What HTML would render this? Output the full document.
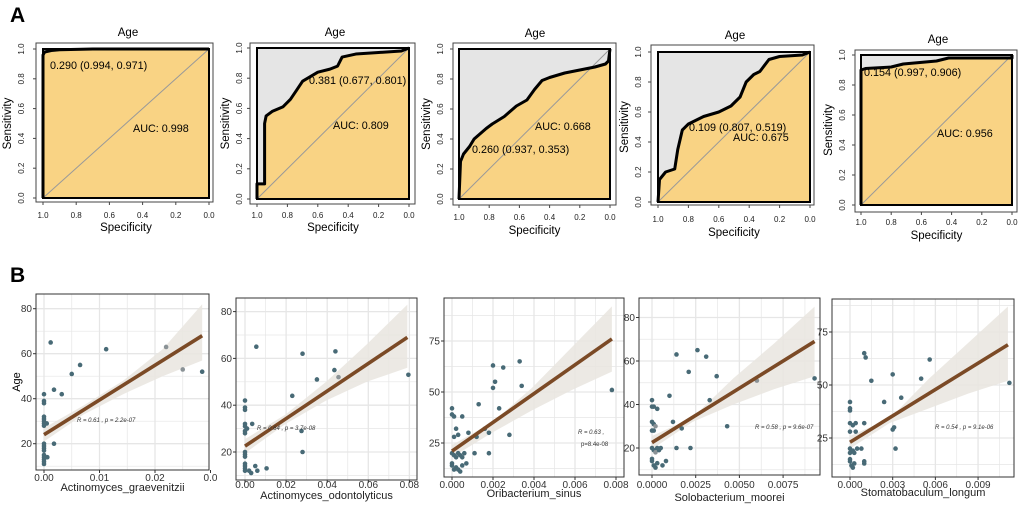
<!DOCTYPE html>
<html><head><meta charset="utf-8">
<style>
html,body{margin:0;padding:0;background:#fff;}
svg{display:block;font-family:"Liberation Sans",Arial,sans-serif;}
</style></head>
<body>
<svg id="fig" width="1020" height="505" viewBox="0 0 1020 505" xmlns="http://www.w3.org/2000/svg">
<text x="10" y="22" font-size="21" font-weight="bold">A</text>
<text x="10" y="282" font-size="21" font-weight="bold">B</text>
</svg>
<script>
// ---------- ROC data ----------
const rocSpec1=[1,1,0.99,0.95,0.9,0.7,0];
const rocSens1=[0,0.96,0.98,0.99,0.995,1,1];
const rocSpec2=[1,1,0.95,0.95,0.94,0.9,0.83,0.78,0.74,0.7,0.65,0.6,0.52,0.47,0.44,0.35,0.2,0.05,0];
const rocSens2=[0,0.1,0.1,0.5,0.55,0.58,0.61,0.66,0.72,0.78,0.81,0.84,0.86,0.88,0.94,0.96,0.97,0.98,1];
const rocSpec3=[1,0.99,0.97,0.93,0.9,0.82,0.78,0.7,0.62,0.55,0.5,0.45,0.4,0.3,0.2,0.1,0.03,0.01,0];
const rocSens3=[0,0.25,0.3,0.35,0.4,0.47,0.5,0.55,0.62,0.66,0.73,0.79,0.81,0.84,0.86,0.88,0.9,0.92,1];
const rocSpec4=[1,0.99,0.95,0.89,0.87,0.84,0.8,0.7,0.6,0.52,0.46,0.42,0.37,0.33,0.27,0.2,0.05,0];
const rocSens4=[0,0.15,0.2,0.22,0.35,0.48,0.52,0.57,0.6,0.64,0.7,0.8,0.85,0.87,0.95,0.97,0.98,1];
const rocSpec5=[1,1,0.97,0.8,0.72,0.5,0.42,0,0];
const rocSens5=[0,0.9,0.91,0.92,0.94,0.96,0.98,0.98,1];
const rocTicks=[0,0.2,0.4,0.6,0.8,1];
const rocTickLabels=["0.0","0.2","0.4","0.6","0.8","1.0"];
const rocThresh=["0.290 (0.994, 0.971)","0.381 (0.677, 0.801)","0.260 (0.937, 0.353)","0.109 (0.807, 0.519)","0.154 (0.997, 0.906)"];
const rocAUC=["AUC: 0.998","AUC: 0.809","AUC: 0.668","AUC: 0.675","AUC: 0.956"];

// ---------- Scatter data ----------
const sx1=[0,0,0,0,0,0,0,0,0,0,0,0,0,0,0,0,0,0.0005,0.0006,0.0012,0.0018,0.0018,0.0032,0.005,0.0065,0.0112,0.022,0.025,0.0285];
const sy1=[42,39,38,32,31,30,29,28,20,19,18,17,15,14,13,12,11,29,14,65,44,20,42,51,55,62,63,53,52];
const sx2=[0,0,0,0,0,0,0,0,0,0,0,0,0,0,0.002,0.003,0.0035,0.005,0.006,0.0055,0.0105,0.023,0.028,0.0275,0.028,0.035,0.0435,0.044,0.0455,0.0795,0.001];
const sy2=[42,39,38,32,31,29,28,20,19,18,15,14,13,12,12,11,32,14,12,65,13,44,62,29,20,51,55,63,52,53,30];
const sx3=[0,0,0.0001,0.0002,0.0001,0.0003,0,0.0001,0.0002,0.0003,0.0004,0.0005,0.0006,0.0005,0,0,0.0001,0.0002,0.0003,0.0004,0.0005,0.0007,0.0008,0.0011,0.0012,0.0013,0.0016,0.0018,0.0018,0.002,0.002,0.0021,0.0023,0.0025,0.0028,0.0033,0.0034,0.0078];
const sy3=[42,39,38,32,28,29,20,19,18,20,19,38,20,18,15,14,12,13,12,11,14,15,30,20,28,44,32,20,30,52,63,55,42,62,29,65,53,51];
const sx4=[0,0,0.0001,0.0003,0,0.0001,0.0002,0,0.0001,0,0.0001,0.0002,0.0003,0.0004,0.0005,0,0,0.0001,0.0002,0.0003,0.0006,0.0008,0.001,0.0012,0.0014,0.0014,0.0017,0.0021,0.0022,0.0026,0.0031,0.0033,0.0037,0.0043,0.006,0.0093];
const sy4=[42,39,39,38,32,31,30,28,28,20,19,18,20,19,20,15,14,12,11,13,12,14,44,32,63,20,29,55,20,65,62,42,53,30,51,52];
const sx5=[0,0,0,0,0.0002,0.0004,0,0.0004,0,0.0002,0.0005,0.0008,0,0.0003,0,0,0.0001,0.0002,0.0003,0.001,0.0011,0.001,0.001,0.001,0.0015,0.0024,0.003,0.003,0.0031,0.0032,0.0036,0.005,0.0056,0.0112];
const sy5=[42,39,38,32,31,32,28,28,20,19,20,20,18,18,15,14,12,11,13,65,63,32,13,14,52,42,55,29,30,20,44,53,62,51];
const lineY1=[24,68], lineY2=[22.5,69], lineY3=[21,76], lineY4=[22.5,69], lineY5=[23,69];
const xMax=[0.0285,0.079,0.0078,0.0093,0.0111];
const bandLo1=[21,33,42,50,57], bandHi1=[27,37,48,62,82];
const bandLo2=[19.5,32,42,50,56], bandHi2=[25.5,36,50,66,83];
const bandLo3=[18,30,41,51,60], bandHi3=[24,35,52,72,92];
const bandLo4=[19.5,32,40,47,53], bandHi4=[25.5,34,52,68,85];
const bandLo5=[20,32,39,46,52], bandHi5=[26,34,53,70,87];
const bandFrac=[0,0.25,0.5,0.75,1];
const xTicks1=[0,0.01,0.02,0.03], xTickLab1=["0.00","0.01","0.02","0.0"];
const xTicks2=[0,0.02,0.04,0.06,0.08], xTickLab2=["0.00","0.02","0.04","0.06","0.08"];
const xTicks3=[0,0.002,0.004,0.006,0.008], xTickLab3=["0.000","0.002","0.004","0.006","0.008"];
const xTicks4=[0,0.0025,0.005,0.0075], xTickLab4=["0.0000","0.0025","0.0050","0.0075"];
const xTicks5=[0,0.003,0.006,0.009], xTickLab5=["0.000","0.003","0.006","0.009"];
const yTicksA=[20,40,60,80], yTicksB=[25,50,75];
const xNames=["Actinomyces_graevenitzii","Actinomyces_odontolyticus","Oribacterium_sinus","Solobacterium_moorei","Stomatobaculum_longum"];
const greyIdx=[[26,27],[28],[],[6,11,34],[]];

const NS="http://www.w3.org/2000/svg";
const svg=document.getElementById('fig');
function el(tag,attrs,parent){const e=document.createElementNS(NS,tag);for(const k in attrs)e.setAttribute(k,attrs[k]);(parent||svg).appendChild(e);return e;}
function txt(s,attrs,parent){const e=el('text',attrs,parent);e.textContent=s;return e;}

// ---------- ROC panels ----------
const rocCfg=[
 {x1:43,x0:209,y1:49,y0:198,ox:[36,213],oy:[43,202],tx:128,ty:36,tl:218,st:231,sx:11,yl:24,th:[50,69],au:[133,132]},
 {x1:257,x0:409,y1:48,y0:199,ox:[250,415],oy:[43,204],tx:335,ty:36,tl:218,st:231,sx:229,yl:242,th:[309,84],au:[333,129]},
 {x1:459,x0:610,y1:49,y0:199,ox:[453,616],oy:[43,205],tx:535,ty:37,tl:220,st:234,sx:430,yl:443,th:[472,153],au:[535,130]},
 {x1:658,x0:810,y1:52,y0:202,ox:[651,814],oy:[45,205],tx:735,ty:39,tl:222,st:236,sx:628,yl:641,th:[689,131],au:[733,141]},
 {x1:861,x0:1012,y1:55,y0:205,ox:[855,1017],oy:[50,212],tx:938,ty:43,tl:225,st:239,sx:832,yl:845,th:[864,76],au:[937,137]}
];
const rocSpecs=[rocSpec1,rocSpec2,rocSpec3,rocSpec4,rocSpec5];
const rocSenss=[rocSens1,rocSens2,rocSens3,rocSens4,rocSens5];
rocCfg.forEach((c,i)=>{
  const g=el('g',{});
  
  
  const X=s=>c.x0-(c.x0-c.x1)*s, Y=v=>c.y0-(c.y0-c.y1)*v;
  const ob=el('rect',{x:c.ox[0],y:c.oy[0],width:c.ox[1]-c.ox[0],height:c.oy[1]-c.oy[0],fill:'none',stroke:'#444','stroke-width':1},g);
  
  
  const bg=el('rect',{x:X(1),y:Y(1),width:X(0)-X(1),height:Y(0)-Y(1),fill:'#e5e5e5'},g);
  
  
  let pts=rocSpecs[i].map((s,k)=>X(s)+','+Y(rocSenss[i][k]));
  const poly=el('polygon',{points:pts.join(' ')+' '+X(0)+','+Y(0)+' '+X(1)+','+Y(0),fill:'#f9d384'},g);
  
  
  const diag=el('line',{x1:X(1),y1:Y(0),x2:X(0),y2:Y(1),stroke:'#999','stroke-width':1},g);
  
  
  const ib=el('rect',{x:X(1),y:Y(1),width:X(0)-X(1),height:Y(0)-Y(1),fill:'none',stroke:'#000','stroke-width':2},g);
  
  
  const cur=el('polyline',{points:pts.join(' '),fill:'none',stroke:'#000','stroke-width':3,'stroke-linejoin':'round'},g);
  
  
  rocTicks.forEach((t,k)=>{
    el('line',{x1:X(t),y1:c.oy[1],x2:X(t),y2:c.oy[1]+3,stroke:'#444'},g);
    const lx=txt(rocTickLabels[k],{x:X(t),y:c.tl,'font-size':8,'text-anchor':'middle',fill:'#222'},g);
    
    
    el('line',{x1:c.ox[0]-3,y1:Y(t),x2:c.ox[0],y2:Y(t),stroke:'#444'},g);
    const ly=txt(rocTickLabels[k],{x:c.yl,y:Y(t),'font-size':8,'text-anchor':'middle',fill:'#222',transform:`rotate(-90 ${c.yl} ${Y(t)})`},g);
    
    
  });
  const t=txt('Age',{x:c.tx,y:c.ty,'font-size':11.5,'text-anchor':'middle'},g);
  
  
  const xt=txt('Specificity',{x:(c.x0+c.x1)/2,y:c.st,'font-size':11.5,'text-anchor':'middle'},g);
  
  
  const my=(c.y0+c.y1)/2;
  const yt=txt('Sensitivity',{x:c.sx,y:my,'font-size':11.5,'text-anchor':'middle',transform:`rotate(-90 ${c.sx} ${my})`},g);
  
  
  const th=txt(rocThresh[i],{x:c.th[0],y:c.th[1],'font-size':10.8},g);
  
  
  const au=txt(rocAUC[i],{x:c.au[0],y:c.au[1],'font-size':10.8},g);
  
  
});

// ---------- Scatter panels ----------
const scCfg=[
 {box:[36,294,209,470],x0:44,xper:5550,yRef:[20,443.7],yper:2.25,yt:yTicksA,tl:481,tt:491,stat:[77,422],ageX:20},
 {box:[236,298,417,480],x0:245,xper:2055,yRef:[20,452],yper:2.34,yt:yTicksA,tl:488,tt:499,stat:[257,430]},
 {box:[444,298,624,477],x0:452,xper:20500,yRef:[25,443],yper:2.04,yt:yTicksB,tl:488,tt:497,stat:[578,434]},
 {box:[639,298,820,475],x0:652,xper:17480,yRef:[20,448],yper:2.175,yt:yTicksA,tl:488,tt:501,stat:[755,429]},
 {box:[832,299,1014,477],x0:850,xper:14230,yRef:[25,438],yper:2.12,yt:yTicksB,tl:488,tt:496,stat:[935,429]}
];
const xs=[sx1,sx2,sx3,sx4,sx5], ys=[sy1,sy2,sy3,sy4,sy5];
const lines=[lineY1,lineY2,lineY3,lineY4,lineY5];
const bLo=[bandLo1,bandLo2,bandLo3,bandLo4,bandLo5], bHi=[bandHi1,bandHi2,bandHi3,bandHi4,bandHi5];
const xT=[xTicks1,xTicks2,xTicks3,xTicks4,xTicks5], xTL=[xTickLab1,xTickLab2,xTickLab3,xTickLab4,xTickLab5];
const statText=["R = 0.61 , p = 2.2e-07","R = 0.64 , p = 3.7e-08","R = 0.63 ,","R = 0.58 , p = 9.6e-07","R = 0.54 , p = 9.1e-06"];
scCfg.forEach((c,i)=>{
  const g=el('g',{});
  
  
  const X=v=>c.x0+v*c.xper, Y=v=>c.yRef[1]-(v-c.yRef[0])*c.yper;
  const [bx0,by0,bx1,by1]=c.box;
  el('rect',{x:bx0,y:by0,width:bx1-bx0,height:by1-by0,fill:'#fff'},g);
  const xt=xT[i], step=xt[1]-xt[0];
  for(let v=xt[0]-step/2; X(v)<bx1; v+=step/2){ if(X(v)<=bx0) continue;
    const major=Math.abs(Math.round(v/step)*step-v)<step*1e-3;
    el('line',{x1:X(v),y1:by0,x2:X(v),y2:by1,stroke:'#e6e6e6','stroke-width':major?1.3:0.7},g);}
  const yt=c.yt, ys2=yt[1]-yt[0];
  for(let v=yt[0]-ys2; Y(v)>by0; v+=ys2/2){ if(Y(v)>=by1) continue;
    const major=((v-yt[0])/ys2)%1===0;
    el('line',{x1:bx0,y1:Y(v),x2:bx1,y2:Y(v),stroke:'#e6e6e6','stroke-width':major?1.3:0.7},g);}
  const up=bandFrac.map((f,k)=>X(f*xMax[i])+','+Y(bHi[i][k]));
  const lo=bandFrac.map((f,k)=>X(f*xMax[i])+','+Y(bLo[i][k])).reverse();
  const band=el('polygon',{points:up.concat(lo).join(' '),fill:'#e9e5df','fill-opacity':0.85},g);
  
  
  xs[i].forEach((xv,k)=>{
    const p=el('circle',{cx:X(xv),cy:Y(ys[i][k]),r:2.3,fill:greyIdx[i].includes(k)?'#8a9296':'#486a76'},g);
    
    
  });
  const ln=el('line',{x1:X(0),y1:Y(lines[i][0]),x2:X(xMax[i]),y2:Y(lines[i][1]),stroke:'#7b4a26','stroke-width':3.6},g);
  
  
  const fr=el('rect',{x:bx0,y:by0,width:bx1-bx0,height:by1-by0,fill:'none',stroke:'#333','stroke-width':1},g);
  
  
  xt.forEach((v,k)=>{
    el('line',{x1:X(v),y1:by1,x2:X(v),y2:by1+3,stroke:'#333'},g);
    const l=txt(xTL[i][k],{x:X(v),y:c.tl,'font-size':10,'text-anchor':'middle',fill:'#333'},g);
    
    
  });
  yt.forEach(v=>{
    el('line',{x1:bx0-3,y1:Y(v),x2:bx0,y2:Y(v),stroke:'#333'},g);
    const l=txt(String(v),{x:bx0-4,y:Y(v)+3.5,'font-size':10,'text-anchor':'end',fill:'#333'},g);
    
    
  });
  const tt=txt(xNames[i],{x:(bx0+bx1)/2,y:c.tt,'font-size':11,'text-anchor':'middle',fill:'#222'},g);
  
  
  const st=txt(statText[i],{x:c.stat[0],y:c.stat[1],'font-size':6,fill:'#333','font-style':'italic'},g);
  
  
  if(i===2){
    const st2=txt('p=8.4e-08',{x:581,y:446,'font-size':6,fill:'#333'},g);
    
    
  }
  if(c.ageX){
    const a=txt('Age',{x:c.ageX,y:(by0+by1)/2,'font-size':11,'text-anchor':'middle',transform:`rotate(-90 ${c.ageX} ${(by0+by1)/2})`},g);
    
    
  }
});
</script>
</body></html>
